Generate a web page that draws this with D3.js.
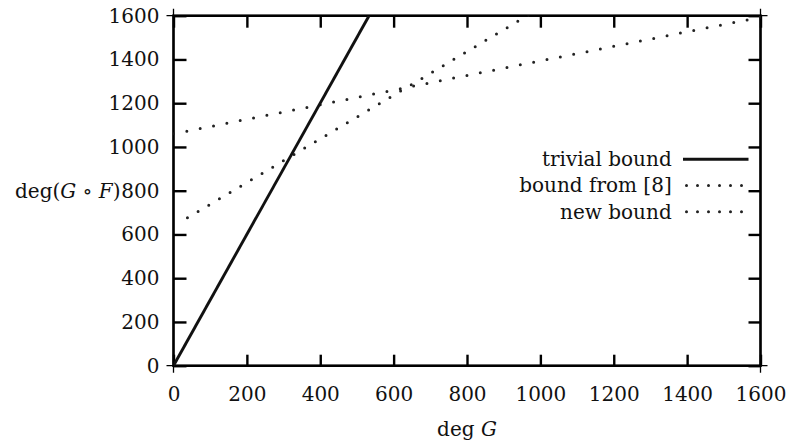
<!DOCTYPE html>
<html>
<head>
<meta charset="utf-8">
<script src="https://cdn.jsdelivr.net/npm/d3@7"></script>
<style>
body { margin: 0; background: #fff; }
</style>
</head>
<body>
<div class="graph"></div>
<script>
var xTicks = [0, 200, 400, 600, 800, 1000, 1200, 1400, 1600];
var yTicks = [0, 200, 400, 600, 800, 1000, 1200, 1400, 1600];

// trivial bound
var trivialX = [0, 533];
var trivialY = [0, 1600];
// bound from [8]
var oldX = [0, 400, 800, 1200, 1600];
var oldY = [1060, 1193, 1327, 1460, 1593];
// new bound
var newX = [38, 400, 800, 970];
var newY = [676, 1037, 1436, 1606];

var legendLabels = ["trivial bound", "bound from [8]", "new bound"];

var fontSize = "20px";

var margin = {top: 15.7, right: 31.5, bottom: 76.3, left: 173.5},
    width = 792 - margin.left - margin.right,
    height = 442 - margin.top - margin.bottom;

var svg = d3.select(".graph")
    .append("svg")
    .attr("width", 792)
    .attr("height", 442)
    .style("font-family", "'DejaVu Serif', serif")
    .style("font-size", fontSize)
    .append("g")
    .attr("transform", "translate(" + margin.left + "," + margin.top + ")");

var x = d3.scaleLinear().domain([0, 1600]).range([0, width]);
var y = d3.scaleLinear().domain([0, 1600]).range([height, 0]);

svg.append("clipPath")
    .attr("id", "plotclip")
    .append("rect")
    .attr("x", 0).attr("y", 0)
    .attr("width", width).attr("height", height);

// axes, ticks pointing inward on all four sides
var gx = svg.append("g")
    .attr("transform", "translate(0," + height + ")")
    .call(d3.axisBottom(x).tickValues(xTicks).tickSize(-11).tickPadding(21).tickFormat(d3.format("d")));
var gy = svg.append("g")
    .call(d3.axisLeft(y).tickValues(yTicks).tickSize(-13).tickPadding(14).tickFormat(d3.format("d")));
var gt = svg.append("g")
    .call(d3.axisTop(x).tickValues(xTicks).tickSize(-12).tickFormat(""));
var gr = svg.append("g")
    .attr("transform", "translate(" + width + ",0)")
    .call(d3.axisRight(y).tickValues(yTicks).tickSize(-12).tickFormat(""));

[gx, gy, gt, gr].forEach(function(g) {
    g.select(".domain").remove();
    g.selectAll("line").attr("stroke", "#000").attr("stroke-width", 2.4);
    g.selectAll("text")
        .attr("fill", "#111")
        .style("font-family", "'DejaVu Serif', serif")
        .style("font-size", fontSize);
});

// frame with small overshoot at the corners
var ext = 7;
svg.append("g")
    .attr("stroke", "#000")
    .attr("stroke-width", 1.3)
    .selectAll("line")
    .data([[-ext, 0, width + ext, 0], [-ext, height, width + ext, height],
           [0, -ext, 0, height + ext], [width, -ext, width, height + ext]])
    .enter()
    .append("line")
    .attr("x1", function(d) { return d[0]; })
    .attr("y1", function(d) { return d[1]; })
    .attr("x2", function(d) { return d[2]; })
    .attr("y2", function(d) { return d[3]; });
svg.append("rect")
    .attr("width", width)
    .attr("height", height)
    .attr("fill", "none")
    .attr("stroke", "#000")
    .attr("stroke-width", 2.6);

var line = d3.line()
    .x(function(d) { return x(d[0]); })
    .y(function(d) { return y(d[1]); });

var plot = svg.append("g").attr("clip-path", "url(#plotclip)");

plot.append("path")
    .datum(d3.zip(oldX, oldY))
    .attr("d", line)
    .attr("fill", "none")
    .attr("stroke", "#222")
    .attr("stroke-width", 3)
    .attr("stroke-linecap", "round")
    .attr("stroke-dasharray", "0 13.6");

plot.append("path")
    .datum(d3.zip(newX, newY))
    .attr("d", line)
    .attr("fill", "none")
    .attr("stroke", "#222")
    .attr("stroke-width", 3)
    .attr("stroke-linecap", "round")
    .attr("stroke-dasharray", "0 12.4");

plot.append("path")
    .datum(d3.zip(trivialX, trivialY))
    .attr("d", line)
    .attr("fill", "none")
    .attr("stroke", "#111")
    .attr("stroke-width", 2.9);

// legend
var legend = svg.append("g");
legendLabels.forEach(function(label, i) {
    var ly = 143.6 + i * 26.2;
    legend.append("text")
        .attr("x", 498.2)
        .attr("y", ly)
        .attr("dy", "0.35em")
        .attr("text-anchor", "end")
        .attr("fill", "#111")
        .text(label);
    var l = legend.append("line")
        .attr("x1", i == 0 ? 509.5 : 513)
        .attr("x2", 575)
        .attr("y1", ly)
        .attr("y2", ly)
        .attr("stroke", i == 0 ? "#111" : "#222")
        .attr("stroke-width", i == 0 ? 2.9 : 3);
    if (i > 0) {
        l.attr("stroke-linecap", "round").attr("stroke-dasharray", "0 11");
    }
});

// axis titles
var ylab = svg.append("text")
    .attr("x", -53)
    .attr("y", y(800))
    .attr("dy", "0.35em")
    .attr("text-anchor", "end")
    .attr("fill", "#111");
ylab.append("tspan").text("deg(");
ylab.append("tspan").style("font-style", "italic").text("G");
ylab.append("tspan").text(" \u2218 ");
ylab.append("tspan").style("font-style", "italic").text("F");
ylab.append("tspan").text(")");

var xlab = svg.append("text")
    .attr("x", width / 2)
    .attr("y", 420.3)
    .attr("text-anchor", "middle")
    .attr("fill", "#111");
xlab.append("tspan").text("deg ");
xlab.append("tspan").style("font-style", "italic").text("G");
</script>
</body>
</html>
